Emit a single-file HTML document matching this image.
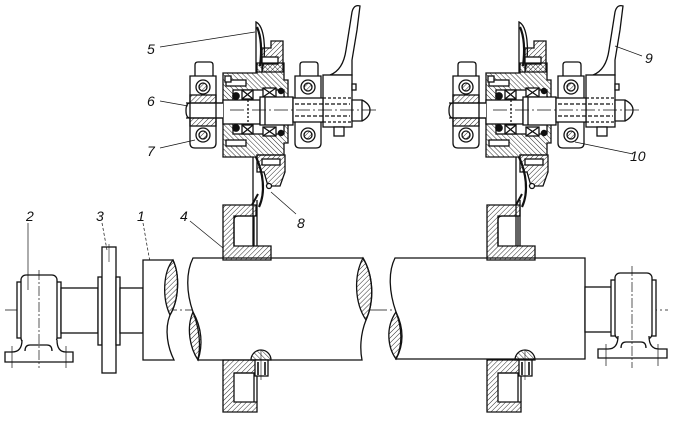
<!DOCTYPE html>
<html><head><meta charset="utf-8"><style>
html,body{margin:0;padding:0;background:#fff;}
svg{display:block;}
text{font-family:"Liberation Sans Narrow","Liberation Sans",sans-serif;font-style:italic;font-size:14px;fill:#111;}
</style></head><body>
<svg width="679" height="423" viewBox="0 0 679 423" xmlns="http://www.w3.org/2000/svg">
<defs>
<pattern id="h" width="3.5" height="3.5" patternUnits="userSpaceOnUse" patternTransform="rotate(45)"><line x1="0" y1="0" x2="0" y2="3.5" stroke="#111" stroke-width="0.9"/></pattern>
<pattern id="h2" width="3.5" height="3.5" patternUnits="userSpaceOnUse" patternTransform="rotate(-45)"><line x1="0" y1="0" x2="0" y2="3.5" stroke="#111" stroke-width="0.9"/></pattern>
<g id="asm" stroke="#111" stroke-width="1.3" fill="none">
 <path d="M256,22 C264,26 267,48 262,72 L256,72 Z" fill="#fff"/>
 <path d="M257,27 C261,36 262,50 260,66" stroke-width="2.2"/>
 <path d="M262,48 L271,48 L271,41 L283,41 L283,72 L262,72 Z" fill="url(#h)"/>
 <rect x="262" y="57" width="16" height="7" fill="#fff"/>
 <path d="M223,73 L257,73 L257,63 L284,63 L284,80 L288,80 L288,143 L284,143 L284,155 L257,155 L257,157 L223,157 Z" fill="url(#h2)"/>
 <rect x="233" y="90" width="51" height="44" fill="#fff"/>
 <rect x="226" y="80" width="20" height="6" fill="#fff"/>
 <rect x="226" y="140" width="20" height="6" fill="#fff"/>
 <rect x="225" y="76" width="6" height="6" fill="#fff"/>
 <rect x="242" y="90" width="11" height="9" fill="#fff"/><path d="M242,90 L253,99 M253,90 L242,99"/>
 <rect x="242" y="125" width="11" height="9" fill="#fff"/><path d="M242,125 L253,134 M253,125 L242,134"/>
 <rect x="263" y="88" width="13" height="9" fill="#fff"/><path d="M263,88 L276,97 M276,88 L263,97"/>
 <rect x="263" y="127" width="13" height="9" fill="#fff"/><path d="M263,127 L276,136 M276,127 L263,136"/>
 <circle cx="236" cy="96" r="3.2" fill="#111"/>
 <circle cx="236" cy="128" r="3.2" fill="#111"/>
 <circle cx="281" cy="91" r="2.6" fill="#111"/>
 <circle cx="281" cy="133" r="2.6" fill="#111"/>
 <rect x="223" y="100" width="37" height="24" fill="#fff"/>
 <rect x="260" y="97" width="33" height="28" fill="#fff"/>
 <line x1="248" y1="100" x2="248" y2="124" stroke-dasharray="2 2"/>
 <line x1="265" y1="97" x2="265" y2="125"/>
 <path d="M223,103 L190,103 Q186,103 186,110.5 Q186,118 190,118 L223,118" fill="#fff"/>
 <path d="M195,76 L195,65 Q195,62 198,62 L210,62 Q213,62 213,65 L213,76" fill="#fff"/>
 <path d="M190,76 L216,76 L216,143 Q216,148 211,148 L195,148 Q190,148 190,143 Z" fill="#fff"/>
 <rect x="190" y="95" width="26" height="8" fill="url(#h)"/>
 <rect x="190" y="118" width="26" height="8" fill="url(#h)"/>
 <line x1="186" y1="103" x2="223" y2="103"/><line x1="186" y1="118" x2="223" y2="118"/>
 <circle cx="203" cy="87" r="7" fill="#fff"/><circle cx="203" cy="87" r="4" fill="url(#h)"/>
 <circle cx="203" cy="135" r="7" fill="#fff"/><circle cx="203" cy="135" r="4" fill="url(#h)"/>
 <path d="M300,76 L300,65 Q300,62 303,62 L315,62 Q318,62 318,65 L318,76" fill="#fff"/>
 <path d="M295,76 L321,76 L321,143 Q321,148 316,148 L300,148 Q295,148 295,143 Z" fill="#fff"/>
 <circle cx="308" cy="87" r="7" fill="#fff"/><circle cx="308" cy="87" r="4" fill="url(#h)"/>
 <circle cx="308" cy="135" r="7" fill="#fff"/><circle cx="308" cy="135" r="4" fill="url(#h)"/>
 <path d="M330,75 C338,72 344,64 346,50 L352,12 Q354,4 360,6 L357,30 L352,60 L352,75 Z" fill="#fff"/>
 <rect x="323" y="75" width="29" height="52" fill="#fff"/>
 <rect x="352" y="84" width="4" height="6" fill="#fff"/>
 <rect x="334" y="127" width="10" height="9" fill="#fff"/>
 <rect x="293" y="98" width="30" height="24" fill="#fff"/>
 <line x1="323" y1="98" x2="352" y2="98" stroke-dasharray="3 2"/>
 <line x1="323" y1="122" x2="352" y2="122" stroke-dasharray="3 2"/>
 <line x1="295" y1="104" x2="350" y2="104" stroke-dasharray="4 2"/>
 <line x1="295" y1="116" x2="350" y2="116" stroke-dasharray="4 2"/>
 <path d="M352,100 L362,100 Q370,104 370,110 Q370,117 362,121 L352,121 Z" fill="#fff"/>
 <line x1="362" y1="100" x2="362" y2="121"/>
 <line x1="230" y1="110" x2="378" y2="110" stroke-width="0.7" stroke-dasharray="14 3 2 3"/>
 <path d="M257,155 L285,155 L285,172 L280,186 L268,186 L264,172 L257,172 Z" fill="url(#h)"/>
 <rect x="262" y="159" width="18" height="6" fill="#fff"/>
 <path d="M256,157 C263,172 266,192 259,207" stroke-width="2.2"/>
 <line x1="253" y1="157" x2="253" y2="246"/>
 <line x1="257" y1="200" x2="257" y2="246"/>
 <circle cx="269" cy="186" r="2.5" fill="#fff"/>
</g>
<g id="brk" stroke="#111" stroke-width="1.3" fill="none">
 <path d="M223,205 L256,205 L256,216 L234,216 L234,246 L271,246 L271,260 L223,260 Z" fill="url(#h)"/>
 <path d="M234,246 L234,220 Q234,216 238,216 L254,216 L254,246"/>
 <path d="M252,205 L258,194" stroke-width="2"/>
 <path d="M223,360 L256,360 L256,373 L234,373 L234,402 L257,402 L257,412 L223,412 Z" fill="url(#h)"/>
 <path d="M234,373 L254,373 L254,402 M257,373 L257,402"/>
 <path d="M251,360 A10,10 0 0 1 271,360 Z" fill="url(#h2)"/>
 <rect x="255" y="360" width="13" height="16" fill="#fff"/>
 <path d="M258,362 L258,375 M265,362 L265,375" stroke-width="1.6"/>
 <line x1="261" y1="350" x2="261" y2="380" stroke-width="0.6"/>
</g>
</defs>

<line x1="5" y1="310" x2="668" y2="310" stroke="#111" stroke-width="0.7" stroke-dasharray="22 3 2 3"/>

<g stroke="#111" stroke-width="1.3" fill="none">
 <rect x="17" y="282" width="5" height="56" fill="#fff"/>
 <rect x="56" y="282" width="5" height="56" fill="#fff"/>
 <rect x="21" y="275" width="36" height="68" rx="5" fill="#fff"/>
 <path d="M22,340 Q22,352 12,352 L5,352 L5,362 L73,362 L73,352 L66,352 Q57,352 57,340" fill="#fff"/>
 <path d="M25,351 Q25,345 30,345 L47,345 Q52,345 52,351"/>
 <line x1="39" y1="270" x2="39" y2="368" stroke-width="0.7" stroke-dasharray="10 2 2 2"/>
 <line x1="12" y1="346" x2="12" y2="368" stroke-width="0.7"/>
 <line x1="66" y1="346" x2="66" y2="368" stroke-width="0.7"/>
 <rect x="61" y="288" width="37" height="45" fill="#fff"/>
 <rect x="98" y="277" width="4" height="68" fill="#fff"/>
 <rect x="102" y="247" width="14" height="126" fill="#fff"/>
 <rect x="116" y="277" width="4" height="68" fill="#fff"/>
 <rect x="120" y="288" width="23" height="45" fill="#fff"/>
 <line x1="109" y1="244" x2="109" y2="262" stroke-width="0.6"/>
 <path d="M143,260 L173,260 C180,275 179,300 170,315 C164,330 168,348 174,360 L143,360 Z" fill="#fff"/>
 <path d="M173,260 C163,272 162,298 170,315 C179,300 180,275 173,260 Z" fill="url(#h)"/>
 <path d="M193,258 L363,258 C373,275 375,300 366,320 C360,335 360,350 362,360 L198,360 C201,345 200,330 193,312 C186,292 186,272 193,258 Z" fill="#fff"/>
 <path d="M193,312 C186,328 190,348 198,360 C203,345 202,328 193,312 Z" fill="url(#h)"/>
 <path d="M363,258 C354,275 354,302 366,320 C375,300 373,275 363,258 Z" fill="url(#h)"/>
 <path d="M395,258 L585,258 L585,359 L396,359 C403,345 402,328 396,312 C389,292 388,272 395,258 Z" fill="#fff"/>
 <path d="M396,312 C385,328 388,348 396,359 C404,345 404,328 396,312 Z" fill="url(#h)"/>
 <rect x="585" y="287" width="27" height="45" fill="#fff"/>
 <rect x="611" y="280" width="5" height="56" fill="#fff"/>
 <rect x="651" y="280" width="5" height="56" fill="#fff"/>
 <rect x="615" y="273" width="37" height="66" rx="5" fill="#fff"/>
 <path d="M618,336 Q618,349 608,349 L598,349 L598,358 L667,358 L667,349 L659,349 Q649,349 649,336" fill="#fff"/>
 <path d="M621,348 Q621,342 626,342 L641,342 Q646,342 646,348"/>
 <line x1="632" y1="266" x2="632" y2="368" stroke-width="0.7" stroke-dasharray="10 2 2 2"/>
 <line x1="606" y1="344" x2="606" y2="366" stroke-width="0.7"/>
 <line x1="658" y1="344" x2="658" y2="366" stroke-width="0.7"/>
</g>

<use href="#brk"/>
<use href="#brk" transform="translate(264,0)"/>
<use href="#asm"/>
<use href="#asm" transform="translate(263,0)"/>

<g stroke="#111" stroke-width="0.7" fill="none">
 <line x1="160" y1="47" x2="255" y2="32"/>
 <line x1="160" y1="101" x2="188" y2="106"/>
 <line x1="160" y1="148" x2="195" y2="140"/>
 <line x1="296" y1="214" x2="271" y2="192"/>
 <line x1="190" y1="221" x2="223" y2="248"/>
 <line x1="143" y1="223" x2="150" y2="262" stroke-dasharray="3 2"/>
 <line x1="102" y1="223" x2="107" y2="250" stroke-dasharray="3 2"/>
 <line x1="28" y1="223" x2="28" y2="290"/>
 <line x1="615" y1="46" x2="642" y2="56"/>
 <line x1="575" y1="142" x2="633" y2="154"/>
</g>

<text x="147" y="54">5</text>
<text x="147" y="106">6</text>
<text x="147" y="156">7</text>
<text x="297" y="228">8</text>
<text x="180" y="221">4</text>
<text x="137" y="221">1</text>
<text x="96" y="221">3</text>
<text x="26" y="221">2</text>
<text x="645" y="63">9</text>
<text x="630" y="161">10</text>
</svg>
</body></html>
